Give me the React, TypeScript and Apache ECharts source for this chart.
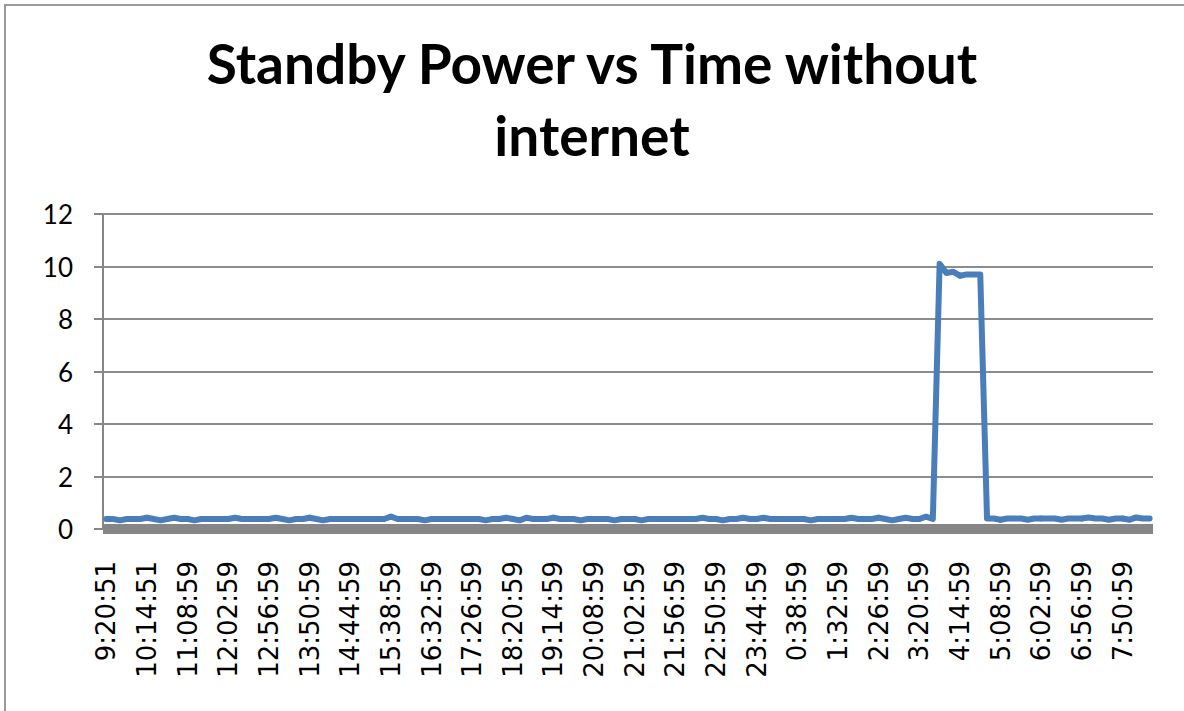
import React, { useEffect, useRef } from "react";
import * as echarts from "echarts";

const titleText = "Standby Power vs Time without\ninternet";

const times: string[] = [
  "9:20:51", "9:29:51", "9:38:51", "9:47:51", "9:56:51", "10:05:51",
  "10:14:51", "10:23:51", "10:32:51", "10:41:51", "10:50:51", "10:59:59",
  "11:08:59", "11:17:59", "11:26:59", "11:35:59", "11:44:59", "11:53:59",
  "12:02:59", "12:11:59", "12:20:59", "12:29:59", "12:38:59", "12:47:59",
  "12:56:59", "13:05:59", "13:14:59", "13:23:59", "13:32:59", "13:41:59",
  "13:50:59", "13:59:59", "14:08:59", "14:17:59", "14:26:59", "14:35:59",
  "14:44:59", "14:53:59", "15:02:59", "15:11:59", "15:20:59", "15:29:59",
  "15:38:59", "15:47:59", "15:56:59", "16:05:59", "16:14:59", "16:23:59",
  "16:32:59", "16:41:59", "16:50:59", "16:59:59", "17:08:59", "17:17:59",
  "17:26:59", "17:35:59", "17:44:59", "17:53:59", "18:02:59", "18:11:59",
  "18:20:59", "18:29:59", "18:38:59", "18:47:59", "18:56:59", "19:05:59",
  "19:14:59", "19:23:59", "19:32:59", "19:41:59", "19:50:59", "19:59:59",
  "20:08:59", "20:17:59", "20:26:59", "20:35:59", "20:44:59", "20:53:59",
  "21:02:59", "21:11:59", "21:20:59", "21:29:59", "21:38:59", "21:47:59",
  "21:56:59", "22:05:59", "22:14:59", "22:23:59", "22:32:59", "22:41:59",
  "22:50:59", "22:59:59", "23:08:59", "23:17:59", "23:26:59", "23:35:59",
  "23:44:59", "23:53:59", "0:02:59", "0:11:59", "0:20:59", "0:29:59",
  "0:38:59", "0:47:59", "0:56:59", "1:05:59", "1:14:59", "1:23:59",
  "1:32:59", "1:41:59", "1:50:59", "1:59:59", "2:08:59", "2:17:59",
  "2:26:59", "2:35:59", "2:44:59", "2:53:59", "3:02:59", "3:11:59",
  "3:20:59", "3:29:59", "3:38:59", "3:47:59", "3:56:59", "4:05:59",
  "4:14:59", "4:23:59", "4:32:59", "4:41:59", "4:50:59", "4:59:59",
  "5:08:59", "5:17:59", "5:26:59", "5:35:59", "5:44:59", "5:53:59",
  "6:02:59", "6:11:59", "6:20:59", "6:29:59", "6:38:59", "6:47:59",
  "6:56:59", "7:05:59", "7:14:59", "7:23:59", "7:32:59", "7:41:59",
  "7:50:59", "7:59:59", "8:08:59", "8:17:59", "8:26:59",
];

const power: number[] = [
  0.38, 0.38, 0.33, 0.38, 0.38, 0.38,
  0.43, 0.38, 0.33, 0.38, 0.43, 0.38,
  0.38, 0.33, 0.38, 0.38, 0.38, 0.38,
  0.38, 0.43, 0.38, 0.38, 0.38, 0.38,
  0.38, 0.43, 0.38, 0.33, 0.38, 0.38,
  0.43, 0.38, 0.33, 0.38, 0.38, 0.38,
  0.38, 0.38, 0.38, 0.38, 0.38, 0.38,
  0.47, 0.38, 0.38, 0.38, 0.38, 0.33,
  0.38, 0.38, 0.38, 0.38, 0.38, 0.38,
  0.38, 0.38, 0.33, 0.38, 0.38, 0.43,
  0.38, 0.33, 0.43, 0.38, 0.38, 0.38,
  0.43, 0.38, 0.38, 0.38, 0.33, 0.38,
  0.38, 0.38, 0.38, 0.33, 0.38, 0.38,
  0.38, 0.33, 0.38, 0.38, 0.38, 0.38,
  0.38, 0.38, 0.38, 0.38, 0.43, 0.38,
  0.38, 0.33, 0.38, 0.38, 0.43, 0.38,
  0.38, 0.43, 0.38, 0.38, 0.38, 0.38,
  0.38, 0.38, 0.33, 0.38, 0.38, 0.38,
  0.38, 0.38, 0.43, 0.38, 0.38, 0.38,
  0.43, 0.38, 0.33, 0.38, 0.43, 0.38,
  0.38, 0.47, 0.38, 10.1, 9.75, 9.8,
  9.65, 9.7, 9.7, 9.7, 0.4, 0.4,
  0.35, 0.4, 0.4, 0.4, 0.35, 0.4,
  0.4, 0.4, 0.4, 0.35, 0.4, 0.4,
  0.4, 0.44, 0.4, 0.4, 0.35, 0.4,
  0.4, 0.35, 0.44, 0.4, 0.4,
];

const yMin = 0;
const yMax = 12;
const yStep = 2;

export default function App() {
  const ref = useRef<HTMLDivElement>(null);
  useEffect(() => {
    if (!ref.current) return;
    const chart = echarts.init(ref.current, undefined, { renderer: "svg" });
    chart.setOption({
      animation: false,
      backgroundColor: "#ffffff",
      title: {
        text: titleText,
        left: "center",
        top: 22,
        textStyle: {
          fontFamily: "Lato",
          fontWeight: "bold",
          fontSize: 55,
          lineHeight: 72,
          color: "#000000",
        },
      },
      graphic: [
        {
          type: "rect",
          shape: { x: 5, y: 5, width: 1300, height: 900 },
          style: { fill: "none", stroke: "#9a9a9a", lineWidth: 2 },
          silent: true,
        },
      ],
      grid: { left: 103, right: 31, top: 214, bottom: 182 },
      xAxis: {
        type: "category",
        data: times,
        boundaryGap: true,
        offset: 5,
        axisLine: { show: true, lineStyle: { color: "#868686", width: 10, cap: "butt" } },
        axisTick: { show: false },
        axisLabel: {
          interval: 5,
          rotate: 90,
          margin: 27,
          fontFamily: "DejaVu Sans",
          fontSize: 26,
          color: "#000000",
        },
        splitLine: { show: false },
      },
      yAxis: {
        type: "value",
        min: yMin,
        max: yMax,
        interval: yStep,
        axisLine: { show: true, lineStyle: { color: "#868686", width: 2 } },
        axisTick: { show: true, inside: false, length: 9, lineStyle: { color: "#868686", width: 2 } },
        axisLabel: {
          margin: 30,
          fontFamily: "Lato",
          fontSize: 26,
          color: "#000000",
        },
        splitLine: { show: true, lineStyle: { color: "#8c8c8c", width: 2 } },
      },
      series: [
        {
          type: "line",
          data: power,
          showSymbol: true,
          symbol: "circle",
          symbolSize: 6,
          lineStyle: { color: "#4a7ebb", width: 6, cap: "round", join: "round" },
          itemStyle: { color: "#4a7ebb" },
        },
      ],
    });
    return () => chart.dispose();
  }, []);
  return (
    <div
      ref={ref}
      style={{ position: "fixed", left: 0, top: 0, width: 1184, height: 711 }}
    />
  );
}
